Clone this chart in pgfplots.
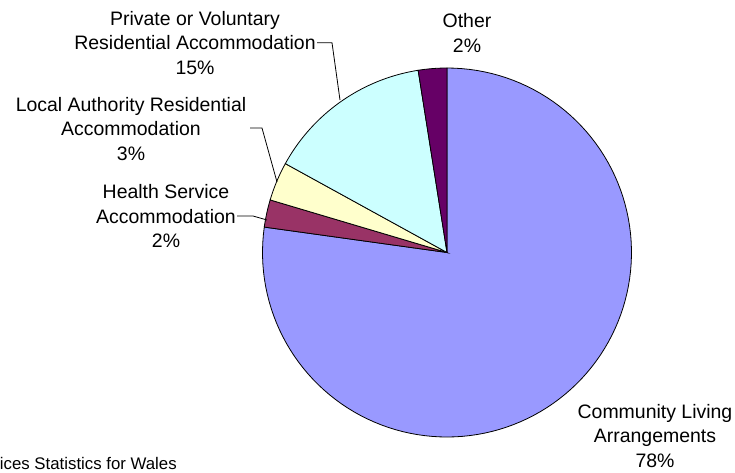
\documentclass[border=0pt]{standalone}
\usepackage{pgfplots}
\usepackage{pgfplotstable}
\usepackage{fontspec}
\setmainfont{Liberation Sans}
\pgfplotsset{compat=1.18}
\definecolor{community}{HTML}{9999FF}
\definecolor{health}{HTML}{993366}
\definecolor{localauth}{HTML}{FFFFCC}
\definecolor{private}{HTML}{CCFFFF}
\definecolor{other}{HTML}{660066}

% share of each placement, in per cent, clockwise from 12 o'clock
\pgfplotstableread{
share name
77.2 Community
2.4  Health
3.4  Local
14.5 Private
2.5  Other
}\piedata

\newcommand{\labfont}{\fontsize{14.6}{18.4}\selectfont}

\begin{document}
\begin{tikzpicture}
\pgfplotstablegetelem{0}{share}\of\piedata \let\vA\pgfplotsretval
\pgfplotstablegetelem{1}{share}\of\piedata \let\vB\pgfplotsretval
\pgfplotstablegetelem{2}{share}\of\piedata \let\vC\pgfplotsretval
\pgfplotstablegetelem{3}{share}\of\piedata \let\vD\pgfplotsretval
\pgfplotstablegetelem{4}{share}\of\piedata \let\vE\pgfplotsretval
\pgfmathsetmacro\aA{90}
\pgfmathsetmacro\aB{\aA-3.6*\vA}
\pgfmathsetmacro\aC{\aB-3.6*\vB}
\pgfmathsetmacro\aD{\aC-3.6*\vC}
\pgfmathsetmacro\aE{\aD-3.6*\vD}
\pgfmathsetmacro\aF{\aE-3.6*\vE}
\def\cx{447}\def\cy{252.5}\def\rr{184.5}
\begin{axis}[
    scale only axis,
    width=551.25pt, height=354pt,
    xmin=0, xmax=735, ymin=0, ymax=472,
    y dir=reverse,
    hide axis,
    clip=false,
    every axis plot/.append style={draw=black, line width=0.6pt, no markers},
]
\coordinate (bl) at (rel axis cs:0,0);
\coordinate (tr) at (rel axis cs:1,1);
\addplot[fill=community, domain=\aB:\aA, samples=120, variable=\t]
    ({\cx+\rr*cos(t)}, {\cy-\rr*sin(t)}) -- (axis cs:\cx,\cy) -- cycle;
\addplot[fill=health, domain=\aC:\aB, samples=10, variable=\t]
    ({\cx+\rr*cos(t)}, {\cy-\rr*sin(t)}) -- (axis cs:\cx,\cy) -- cycle;
\addplot[fill=localauth, domain=\aD:\aC, samples=12, variable=\t]
    ({\cx+\rr*cos(t)}, {\cy-\rr*sin(t)}) -- (axis cs:\cx,\cy) -- cycle;
\addplot[fill=private, domain=\aE:\aD, samples=40, variable=\t]
    ({\cx+\rr*cos(t)}, {\cy-\rr*sin(t)}) -- (axis cs:\cx,\cy) -- cycle;
\addplot[fill=other, domain=\aF:\aE, samples=10, variable=\t]
    ({\cx+\rr*cos(t)}, {\cy-\rr*sin(t)}) -- (axis cs:\cx,\cy) -- cycle;

% leader lines
\draw[black, line width=0.6pt] (axis cs:317,42.7) -- (axis cs:332,42.7) -- (axis cs:340,100);
\draw[black, line width=0.6pt] (axis cs:250,128) -- (axis cs:262,128) -- (axis cs:277,182);
\draw[black, line width=0.6pt] (axis cs:237,216) -- (axis cs:253,216) -- (axis cs:267,220);

% labels
\node[align=center, inner sep=0pt, font=\labfont] at (axis cs:195,43)
    {Private or Voluntary\\Residential Accommodation\\15\%};
\node[align=center, inner sep=0pt, font=\labfont] at (axis cs:131,129)
    {Local Authority Residential\\Accommodation\\3\%};
\node[align=center, inner sep=0pt, font=\labfont] at (axis cs:166,216)
    {Health Service\\Accommodation\\2\%};
\node[align=center, inner sep=0pt, font=\labfont] at (axis cs:467,33)
    {Other\\2\%};
\node[align=center, inner sep=0pt, font=\labfont] at (axis cs:655,436)
    {Community Living\\Arrangements\\78\%};
\node[anchor=base east, inner sep=0pt, font=\fontsize{12.6}{15}\selectfont] at (axis cs:177,469)
    {Source: Social Services Statistics for Wales};
\end{axis}
\pgfresetboundingbox
\useasboundingbox (bl) rectangle (tr);
\end{tikzpicture}
\end{document}
